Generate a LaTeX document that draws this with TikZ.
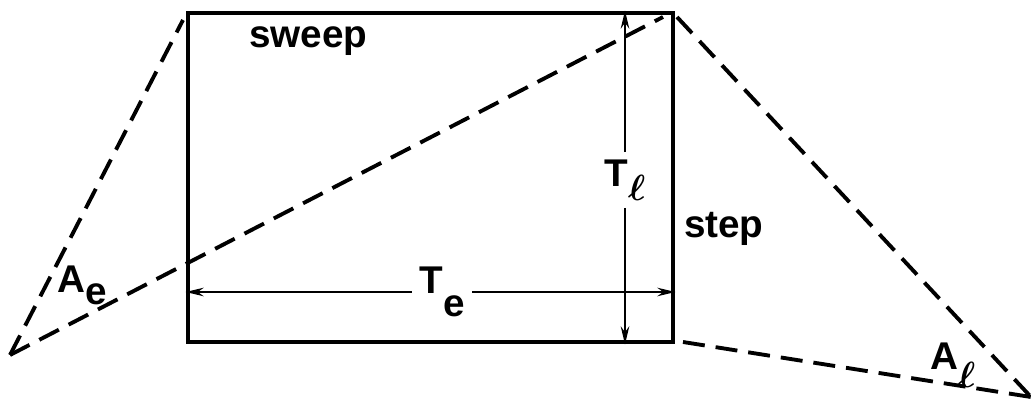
\documentclass[tikz,border=0pt]{standalone}
\usepackage{fontspec}
\usepackage{amsmath}
\setmainfont{Liberation Sans}
\usetikzlibrary{arrows.meta}
\newcommand\lowsub[2]{\raisebox{-#1}{#2}}

\begin{document}
\begin{tikzpicture}[x=1cm,y=1cm,
  frameline/.style={line width=2.7pt},
  projline/.style={line width=2.2pt,dash pattern=on 0.44cm off 0.22cm},
  dimline/.style={line width=1.2pt,-{Stealth[length=0.36cm,width=0.17cm]}},
  lbl/.style={font=\fontsize{22}{24}\selectfont\bfseries,inner sep=1pt}]
\path[use as bounding box] (0,0) rectangle (20.72,8.14);
\node[frameline,draw,minimum width=9.70cm,minimum height=6.58cm,inner sep=0pt] (frame) at (8.61,4.59) {};
\coordinate (apexL) at (0.20,1.04);
\coordinate (apexR) at (20.62,0.20);
\coordinate (sweepL) at (3.66,7.74);
\coordinate (sweepR) at (13.26,7.80);
\coordinate (stepT) at (13.54,7.80);
\coordinate (stepB) at (13.66,1.30);
\draw[projline] (apexL) -- (sweepL);
\draw[projline] (apexL) -- (sweepR);
\draw[projline] (stepT) -- (apexR);
\draw[projline] (stepB) -- (apexR);
\node[lbl,anchor=base west] (sweep) at (4.94,7.19) {sweep};
\node[lbl,anchor=base west] (step) at (13.64,3.39) {step};
\node[lbl,inner sep=0.15cm] (te) at (8.84,2.30) {T\lowsub{0.6em}{e}};
\draw[dimline] (te.west) -- (te.west -| frame.west);
\draw[dimline] (te.east) -- (te.east -| frame.east);
\node[lbl,inner sep=0.15cm] (tl) at (12.50,4.54) {T\lowsub{0.35em}{$\boldsymbol{\ell}$}};
\draw[dimline] (tl.north) -- (tl.north |- frame.north);
\draw[dimline] (tl.south) -- (tl.south |- frame.south);
\node[lbl,anchor=base west] (ae) at (1.10,2.28) {A\lowsub{0.3em}{e}};
\node[lbl,anchor=base west] (al) at (18.56,0.74) {A\lowsub{0.45em}{$\boldsymbol{\ell}$}};
\end{tikzpicture}
\end{document}
